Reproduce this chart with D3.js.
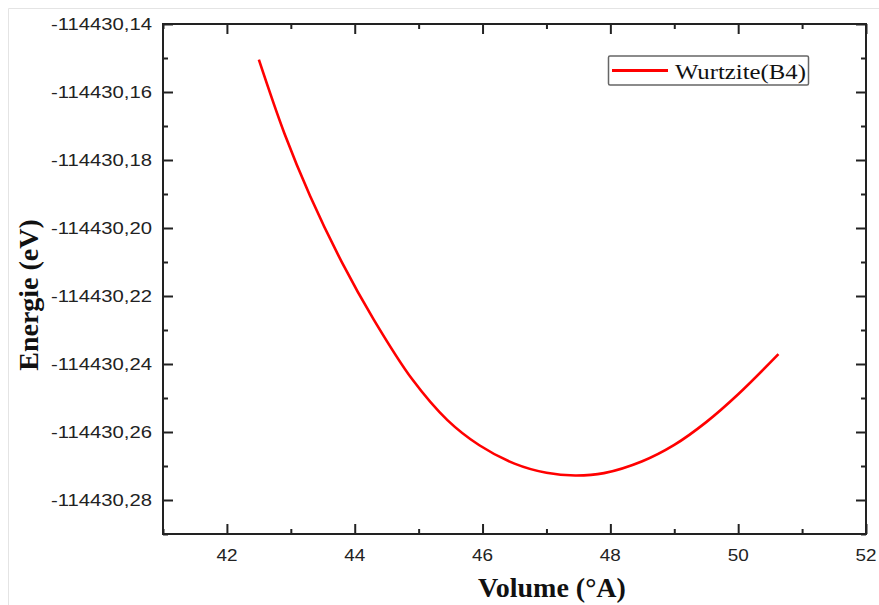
<!DOCTYPE html>
<html lang="en">
<head>
<meta charset="utf-8">
<title>Energie vs Volume</title>
<script src="https://d3js.org/d3.v7.min.js"></script>
<style>
  body { margin: 0; background: #ffffff; }
  svg { display: block; }
</style>
</head>
<body>
<div id="chart"></div>
<script>
// data
var volume = [42.50, 42.90, 43.30, 43.80, 44.30, 44.90, 45.45, 45.95, 46.50,
              47.00, 47.45, 47.90, 48.50, 49.00, 49.50, 50.00, 50.63];
var energy = [-114430.1505, -114430.1722, -114430.1905, -114430.2101, -114430.2270,
              -114430.2445, -114430.2565, -114430.2639, -114430.2693, -114430.2720,
              -114430.2728, -114430.2721, -114430.2686, -114430.2638, -114430.2571,
              -114430.2489, -114430.2371];
var seriesName = "Wurtzite(B4)";

var xMajor = [42, 44, 46, 48, 50, 52];
var xMinor = [41, 43, 45, 47, 49, 51];
var yMajor = [-114430.14, -114430.16, -114430.18, -114430.20, -114430.22, -114430.24, -114430.26, -114430.28];
var yMinor = [-114430.15, -114430.17, -114430.19, -114430.21, -114430.23, -114430.25, -114430.27, -114430.29];
var yLabels = ["-114430,14", "-114430,16", "-114430,18", "-114430,20",
               "-114430,22", "-114430,24", "-114430,26", "-114430,28"];

var w = 879, h = 605;
// plot frame (window.top is reserved, so no plain "top")
var pL = 163, pR = 866, pT = 24, pB = 534;

var svg = d3.select("#chart").append("svg")
    .attr("width", w).attr("height", h)
    .style("background-color", "#ffffff");

// faint outer frame of the picture
svg.append("line").attr("x1", 8.5).attr("y1", 8.5).attr("x2", 8.5).attr("y2", h)
    .attr("stroke", "#e4e4e4").attr("stroke-width", 1);
svg.append("line").attr("x1", 8.5).attr("y1", 8.5).attr("x2", w).attr("y2", 8.5)
    .attr("stroke", "#e4e4e4").attr("stroke-width", 1);

var x = d3.scaleLinear().domain([41, 52]).range([pL, pR]);
var y = d3.scaleLinear().domain([-114430.29, -114430.14]).range([pB, pT]);

function styleAxis(g) {
    g.select(".domain").remove();
    g.selectAll(".tick text").remove();
    g.selectAll(".tick line").attr("stroke", "#222").attr("stroke-width", 2);
}

// ticks on all four sides, pointing inward
[[xMajor, 10], [xMinor, 5]].forEach(function (t) {
    svg.append("g").attr("transform", "translate(0," + pB + ")")
        .call(d3.axisBottom(x).tickValues(t[0]).tickSize(-t[1]))
        .call(styleAxis);
    svg.append("g").attr("transform", "translate(0," + pT + ")")
        .call(d3.axisTop(x).tickValues(t[0]).tickSize(-t[1]))
        .call(styleAxis);
});
[[yMajor, 10], [yMinor, 5]].forEach(function (t) {
    svg.append("g").attr("transform", "translate(" + pL + ",0)")
        .call(d3.axisLeft(y).tickValues(t[0]).tickSize(-t[1]))
        .call(styleAxis);
    svg.append("g").attr("transform", "translate(" + pR + ",0)")
        .call(d3.axisRight(y).tickValues(t[0]).tickSize(-t[1]))
        .call(styleAxis);
});

// frame
svg.append("rect")
    .attr("x", pL).attr("y", pT)
    .attr("width", pR - pL).attr("height", pB - pT)
    .attr("fill", "none").attr("stroke", "#222").attr("stroke-width", 2);

// tick labels
svg.selectAll("text.xlab")
    .data(xMajor)
    .enter().append("text")
    .attr("class", "xlab")
    .attr("x", function (d) { return x(d); })
    .attr("y", 561)
    .attr("text-anchor", "middle")
    .attr("textLength", 21)
    .attr("lengthAdjust", "spacingAndGlyphs")
    .style("font-family", "'Liberation Sans', Arial, sans-serif")
    .style("font-size", "16px")
    .style("fill", "#222")
    .text(function (d) { return d; });

svg.selectAll("text.ylab")
    .data(yMajor)
    .enter().append("text")
    .attr("class", "ylab")
    .attr("x", 152)
    .attr("y", function (d) { return y(d) + 6; })
    .attr("text-anchor", "end")
    .attr("textLength", 101)
    .attr("lengthAdjust", "spacingAndGlyphs")
    .style("font-family", "'Liberation Sans', Arial, sans-serif")
    .style("font-size", "17px")
    .style("fill", "#222")
    .text(function (d, i) { return yLabels[i]; });

// axis titles
svg.append("text")
    .attr("x", 552).attr("y", 597)
    .attr("text-anchor", "middle")
    .style("font-family", "'Liberation Serif', 'Times New Roman', serif")
    .style("font-weight", "bold")
    .style("font-size", "28px")
    .style("fill", "#111")
    .text("Volume (°A)");

svg.append("text")
    .attr("transform", "translate(37.5,295) rotate(-90)")
    .attr("text-anchor", "middle")
    .style("font-family", "'Liberation Serif', 'Times New Roman', serif")
    .style("font-weight", "bold")
    .style("font-size", "28px")
    .style("fill", "#111")
    .text("Energie (eV)");

// the curve
var pts = volume.map(function (v, i) { return [v, energy[i]]; });
var line = d3.line()
    .x(function (d) { return x(d[0]); })
    .y(function (d) { return y(d[1]); })
    .curve(d3.curveCatmullRom.alpha(0.5));

svg.append("path")
    .datum(pts)
    .attr("d", line)
    .attr("fill", "none")
    .attr("stroke", "#ff0000")
    .attr("stroke-width", 2.6);

// legend
var lg = svg.append("g");
lg.append("rect")
    .attr("x", 608.5).attr("y", 56)
    .attr("width", 200).attr("height", 29)
    .attr("rx", 1.5)
    .attr("fill", "#ffffff")
    .attr("stroke", "#666")
    .attr("stroke-width", 1.5);
lg.append("line")
    .attr("x1", 612).attr("x2", 668)
    .attr("y1", 70.5).attr("y2", 70.5)
    .attr("stroke", "#ff0000").attr("stroke-width", 3);
lg.append("text")
    .attr("x", 675).attr("y", 78.5)
    .attr("textLength", 131)
    .attr("lengthAdjust", "spacingAndGlyphs")
    .style("font-family", "'Liberation Serif', 'Times New Roman', serif")
    .style("font-size", "21px")
    .style("fill", "#111")
    .text(seriesName);
</script>
</body>
</html>
